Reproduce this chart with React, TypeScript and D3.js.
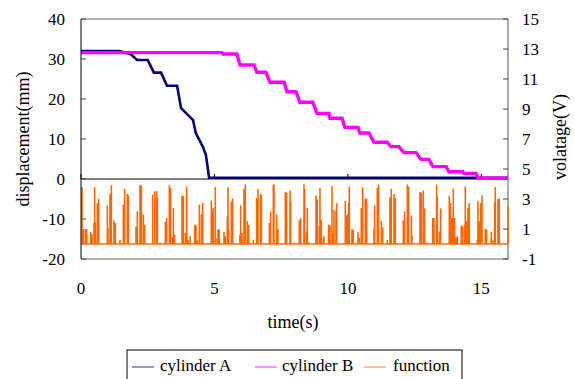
import React from 'react';
import * as d3 from 'd3';

// axis ticks
const timeTicks = [0, 5, 10, 15];
const dispTicks = [40, 30, 20, 10, 0, -10, -20];
const voltTicks = [15, 13, 11, 9, 7, 5, 3, 1, -1];

// cylinder A displacement (mm) vs time (s)
const cylinderA: [number, number][] = [
  [0, 32], [1.45, 32], [1.87, 31.2], [2.1, 29.75], [2.5, 29.75], [2.73, 26.6],
  [3.0, 26.6], [3.22, 23.3], [3.6, 23.3], [3.75, 17.7], [4.2, 14.7], [4.3, 11.5],
  [4.57, 8], [4.68, 6], [4.8, 0.3], [16, 0.3],
];

// cylinder B displacement (mm) vs time (s)
const cylinderB: [number, number][] = [
  [0, 31.6], [5.28, 31.6], [5.32, 31.25], [5.84, 31.25], [5.96, 28.5], [6.48, 28.5],
  [6.59, 26.7], [6.93, 26.7], [7.08, 24.2], [7.61, 24.2], [7.72, 21.8], [8.06, 21.8],
  [8.2, 19.2], [8.69, 19.2], [8.84, 16.4], [9.29, 16.4], [9.33, 15.2], [9.78, 15.2],
  [9.89, 12.9], [10.38, 12.9], [10.45, 11.5], [10.79, 11.5], [10.98, 9.2], [11.47, 9.2],
  [11.61, 8.1], [11.91, 8.1], [12.1, 6.6], [12.55, 6.6], [12.74, 4.9], [13.04, 4.9],
  [13.19, 3.1], [13.68, 3.1], [13.79, 1.8], [14.31, 1.8], [14.35, 1.4], [14.8, 1.4],
  [14.88, 0.2], [16, 0.2],
];

// function pulses: [time (s), voltage (V)]
const functionPulses: [number, number][] = [
  [0.04, 3.78], [0.087, 0.96], [0.162, 1.0], [0.212, 1.0], [0.362, 0.8], [0.412, 0.67],
  [0.487, 1.4], [0.512, 3.78], [0.537, 1.44], [0.612, 2.73], [0.662, 3.02],
  [0.987, 2.58], [1.012, 1.07], [1.087, 3.33], [1.137, 3.91], [1.237, 1.56], [1.287, 1.4],
  [1.461, 0.29], [1.586, 2.62], [1.636, 3.67], [1.736, 3.33], [1.774, 3.24],
  [2.061, 1.16], [2.111, 2.18], [2.211, 3.91], [2.261, 3.91], [2.336, 1.96], [2.386, 1.29],
  [2.685, 3.29], [2.76, 3.51], [2.835, 3.51], [2.86, 3.07], [2.96, 0.1],
  [3.16, 1.47], [3.21, 1.73], [3.31, 3.91], [3.36, 3.73], [3.435, 0.44], [3.46, 2.4],
  [3.51, 0.62], [3.785, 3.24], [3.835, 3.18], [3.91, 0.73], [3.96, 3.84], [4.01, 0.29],
  [4.085, 0.51], [4.26, 1.29], [4.31, 1.24], [4.36, 0.24], [4.434, 2.62], [4.51, 1.96],
  [4.56, 2.73], [4.883, 2.89], [4.908, 2.18], [4.958, 2.4], [5.033, 3.8], [5.058, 0.4],
  [5.133, 0.96], [5.183, 0.96],
  [5.358, 0.8], [5.408, 0.51], [5.483, 1.84], [5.508, 3.78], [5.533, 0.96],
  [5.633, 2.84], [5.683, 3.02], [5.957, 0.62], [5.982, 2.58], [6.032, 0.73],
  [6.107, 3.67], [6.157, 3.96], [6.232, 1.51], [6.282, 1.29], [6.457, 0.29],
  [6.582, 3.07], [6.632, 3.67], [6.732, 3.33], [6.757, 3.24], [7.056, 1.4], [7.106, 2.18],
  [7.206, 3.96], [7.231, 3.96], [7.331, 1.96], [7.381, 1.02], [7.656, 3.47], [7.706, 3.4],
  [7.831, 3.56], [7.856, 2.84], [7.981, 0.1], [8.18, 1.56], [8.23, 1.73],
  [8.355, 3.96], [8.38, 3.67], [8.455, 0.8], [8.48, 2.4], [8.53, 0.1],
  [8.805, 3.24], [8.855, 2.96], [8.93, 1.18], [8.955, 3.73], [9.005, 1.62],
  [9.08, 0.36], [9.105, 0.51], [9.28, 1.29], [9.329, 1.24], [9.404, 3.87], [9.454, 0.73],
  [9.479, 2.29], [9.554, 2.18], [9.579, 2.71], [9.904, 2.89], [9.929, 1.84], [9.979, 1.96],
  [10.029, 2.73], [10.054, 3.82], [10.153, 0.96], [10.203, 0.96], [10.378, 0.8], [10.428, 0.4],
  [10.503, 2.4], [10.553, 3.78], [10.653, 3.02], [10.703, 3.02],
  [10.978, 1.02], [11.003, 2.58], [11.028, 0.1], [11.103, 3.73], [11.153, 3.96],
  [11.253, 1.56], [11.303, 1.11], [11.477, 0.29], [11.577, 3.11], [11.627, 3.69],
  [11.727, 3.33], [11.777, 3.07], [12.077, 1.56], [12.127, 2.18], [12.227, 3.96], [12.277, 3.84],
  [12.377, 1.91], [12.402, 0.58], [12.701, 3.47], [12.751, 3.4], [12.826, 3.56], [12.876, 2.36],
  [12.976, 0.1], [13.176, 1.73], [13.226, 1.73], [13.326, 3.96], [13.351, 3.16],
  [13.426, 0.84], [13.476, 2.36], [13.8, 3.24], [13.85, 2.73], [13.9, 1.73], [13.95, 3.69],
  [14.0, 1.73], [14.05, 0.44], [14.1, 0.51], [14.25, 1.24], [14.3, 1.18], [14.375, 1.29],
  [14.4, 3.84], [14.45, 1.51], [14.5, 2.4], [14.55, 2.73], [14.85, 0.29], [14.874, 2.89],
  [14.924, 1.51], [14.974, 2.73], [15.024, 3.24], [15.149, 1.02], [15.199, 0.96],
  [15.374, 0.8], [15.424, 0.29], [15.499, 2.8], [15.524, 3.8], [15.624, 3.02], [15.674, 3.02],
  [15.998, 2.51],
];

const W = 575;
const H = 379;
const font = '"Liberation Serif", "Times New Roman", serif';

const App = () => {
  const x = d3.scaleLinear().domain([0, 16]).range([81, 508]);
  const yL = d3.scaleLinear().domain([-20, 40]).range([259, 19]);
  const yR = d3.scaleLinear().domain([-1, 15]).range([259, 19]);

  const lineL = d3.line<[number, number]>()
    .x(d => x(d[0]))
    .y(d => yL(d[1]));

  const pulsePath = functionPulses
    .map(([t, v]) => `M${x(t)},${yR(0)}V${yR(v)}`)
    .join('');

  const [x0, x1] = x.range();
  const [yb, yt] = yL.range();

  return (
    <svg width={W} height={H} style={{ position: 'absolute', left: 0, top: 0, background: '#fff' }}
      fontFamily={font}>
      {/* frame */}
      <line x1={x0} x2={x1} y1={yt} y2={yt} stroke="#666" />
      <line x1={x1} x2={x1} y1={yt} y2={yb} stroke="#555" />
      <line x1={x0} x2={x1} y1={yb} y2={yb} stroke="#666" />

      {/* function signal */}
      <line x1={x(0)} x2={x(16)} y1={yR(0)} y2={yR(0)} stroke="#FF6A10" strokeWidth={1.5} />
      <path d={pulsePath} stroke="#FF6600" strokeWidth={1.6} fill="none" />

      {/* zero axis */}
      <line x1={x0} x2={x1} y1={yL(0)} y2={yL(0)} stroke="#000" />
      {timeTicks.map(t => (
        <line key={t} x1={x(t)} x2={x(t)} y1={yL(0)} y2={yL(0) - 5} stroke="#000" />
      ))}

      {/* cylinders */}
      <path d={lineL(cylinderA) ?? ''} fill="none" stroke="#000080" strokeWidth={2.6} />
      <path d={lineL(cylinderB) ?? ''} fill="none" stroke="#FF00FF" strokeWidth={3.4} />

      {/* left axis */}
      <line x1={x0} x2={x0} y1={yt} y2={yb} stroke="#000" />
      {dispTicks.map(v => (
        <g key={v}>
          <line x1={x0} x2={x0 + 5} y1={yL(v)} y2={yL(v)} stroke="#444" />
          <text x={65} y={yL(v)} dy="0.35em" textAnchor="end" fontSize={17}>{v}</text>
        </g>
      ))}

      {/* right axis */}
      {voltTicks.map(v => (
        <g key={v}>
          <line x1={x1} x2={x1 - 5} y1={yR(v)} y2={yR(v)} stroke="#444" />
          <text x={522} y={yR(v)} dy="0.35em" textAnchor="start" fontSize={17}>{v}</text>
        </g>
      ))}

      {/* x tick labels (low) */}
      {timeTicks.map(t => (
        <text key={t} x={x(t)} y={294} textAnchor="middle" fontSize={17}>{t}</text>
      ))}

      {/* titles */}
      <text x={293} y={328} textAnchor="middle" fontSize={18}>time(s)</text>
      <text transform="translate(29,139) rotate(-90)" textAnchor="middle" fontSize={18}>displacement(mm)</text>
      <text transform="translate(566,137) rotate(-90)" textAnchor="middle" fontSize={18}>volatage(V)</text>

      {/* legend */}
      <rect x={127} y={350} width={335} height={40} fill="#fff" stroke="#000" />
      {[
        { label: 'cylinder A', color: '#000080', lx: 132, tx: 160 },
        { label: 'cylinder B', color: '#FF00FF', lx: 255, tx: 282 },
        { label: 'function', color: '#FF6600', lx: 364, tx: 393 },
      ].map(d => (
        <g key={d.label}>
          <line x1={d.lx} x2={d.lx + 22} y1={367} y2={367} stroke={d.color} strokeOpacity={0.55} strokeWidth={1.5} />
          <text x={d.tx} y={371} fontSize={17}>{d.label}</text>
        </g>
      ))}
    </svg>
  );
};

export default App;
